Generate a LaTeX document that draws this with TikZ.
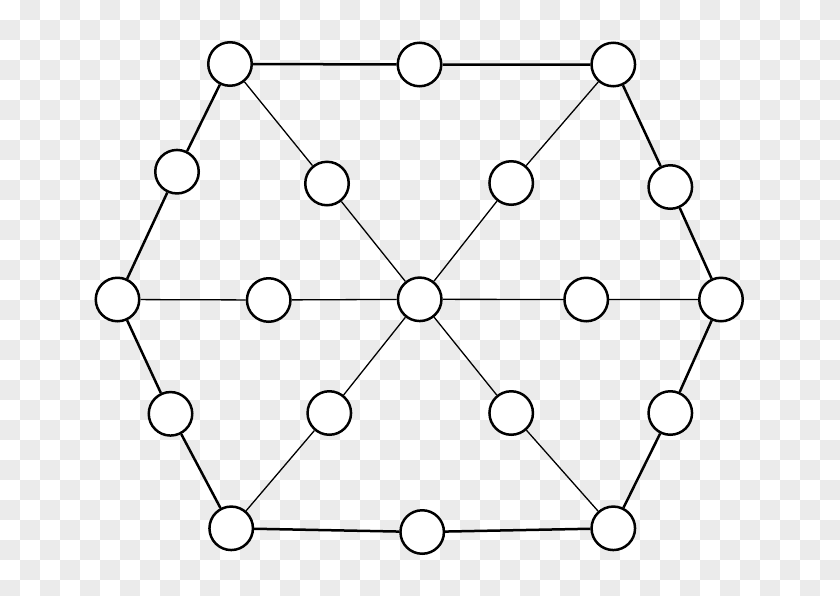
\documentclass[tikz,border=0pt]{standalone}
\usepackage{xcolor}
\usepackage{tikz}
\definecolor{checkgray}{RGB}{235, 235, 235}

\begin{document}
\begin{tikzpicture}[x=1pt,y=-1pt,
    dot/.style={circle, draw, fill=white, line width=2.5pt, minimum size=43.5pt, inner sep=0pt},
    rim/.style={line width=2.5pt},
    spoke/.style={line width=1.3pt}]
\useasboundingbox (0,0) rectangle (840,595);
% Background checkerboard
\fill[white] (0,0) rectangle (840,595);
\begin{scope}
\clip (0,0) rectangle (840,595);
\foreach \i in {0,...,41}
    \foreach \j in {0,...,14}{
        \pgfmathtruncatemacro{\row}{2*\j+1-mod(\i,2)}
        \fill[checkgray] (20*\i,20*\row) rectangle ++(20,20);
    }
\end{scope}

% Corners
\node[dot] (vtl) at (230,64) {};
\node[dot] (vtr) at (613.3,64.5) {};
\node[dot] (vr) at (721,299.5) {};
\node[dot] (vbr) at (613.3,528.3) {};
\node[dot] (vbl) at (231.2,528.3) {};
\node[dot] (vl) at (117.5,299.5) {};
% Side midpoints
\node[dot] (mt) at (419.5,64.5) {};
\node[dot] (mur) at (670.3,187) {};
\node[dot] (mlr) at (670.3,413) {};
\node[dot] (mb) at (422.2,532) {};
\node[dot] (mll) at (170.5,413.8) {};
\node[dot] (mul) at (177,171.7) {};
% Centre and spoke midpoints
\node[dot] (c) at (419.7,299.3) {};
\node[dot] (sul) at (327,183.5) {};
\node[dot] (sur) at (511.2,183) {};
\node[dot] (sl) at (268.7,300) {};
\node[dot] (sr) at (586.2,299.5) {};
\node[dot] (sll) at (329.3,413) {};
\node[dot] (slr) at (511.2,413) {};

% Hexagon
\draw[rim] (vtl) -- (mt) -- (vtr) -- (mur) -- (vr) -- (mlr) -- (vbr)
    -- (mb) -- (vbl) -- (mll) -- (vl) -- (mul) -- (vtl);
% Spokes
\draw[spoke] (vtl) -- (sul) -- (c) -- (slr) -- (vbr);
\draw[spoke] (vtr) -- (sur) -- (c) -- (sll) -- (vbl);
\draw[spoke] (vl) -- (sl) -- (c) -- (sr) -- (vr);
\end{tikzpicture}
\end{document}
